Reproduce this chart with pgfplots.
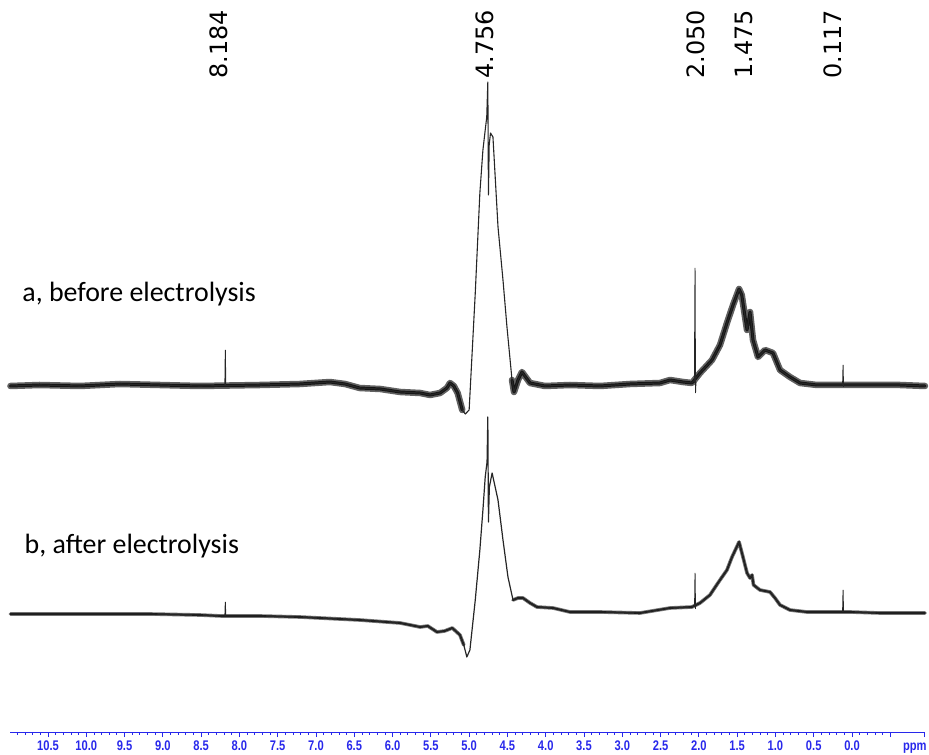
\documentclass[border=0pt]{standalone}
\usepackage{pgfplots}
\pgfplotsset{compat=1.18}
\usepackage{pgfplotstable}
\usepackage{fontspec}
\setmainfont{Carlito}
\newfontfamily\shiftfont{DejaVu Sans}
\newfontfamily\scalefont[FakeStretch=0.8]{Liberation Sans}
\definecolor{scaleblue}{RGB}{40,40,235}

% 1H spectrum before electrolysis (intensity relative to baseline)
\pgfplotstableread{
ppm I
10.99 -1
10.61 0
10.08 -1
9.56 1
9.04 0
8.52 -1
7.73 0
7.21 1
6.82 3
6.62 1
6.43 -3
6.16 -4
5.90 -7
5.64 -8
5.51 -10
5.38 -8
5.29 -3
5.25 2
5.20 -1
5.15 -8
5.09 -25
5.05 -29
5.00 -25
4.92 92
4.86 192
4.82 235
4.79 255
4.770 268
4.756 303
4.748 190
4.738 240
4.721 252
4.689 248
4.623 158
4.558 105
4.506 58
4.440 5
4.414 -7
4.362 5
4.310 13
4.205 2
4.009 -1
3.683 0
3.291 -1
2.899 1
2.508 2
2.377 5
2.207 3
2.090 2
1.985 12
1.828 25
1.724 40
1.633 62
1.554 80
1.475 96
1.440 90
1.371 55
1.332 73
1.293 45
1.228 28
1.136 35
1.032 32
0.940 15
0.810 8
0.679 2
0.457 0
0.200 0
-0.235 0
-0.627 0
-0.953 -1
}\tracea

\pgfplotstableread{
ppm I
8.190 0
8.184 35
8.178 0
nan nan
2.058 2
2.050 117
2.044 -8
2.038 3
nan nan
0.123 0
0.117 20
0.111 -2
}\spikesa

% 1H spectrum after electrolysis
\pgfplotstableread{
ppm I
10.99 -2
10.34 -2
9.82 -2
9.17 -2
8.52 -3
8.23 -4
7.73 -4
7.21 -5
6.43 -8
5.90 -11
5.64 -15
5.54 -14
5.42 -20
5.32 -19
5.22 -16
5.12 -23
5.07 -33
5.03 -45
4.99 -38
4.92 12
4.86 62
4.82 102
4.79 135
4.766 150
4.756 195
4.748 90
4.736 125
4.700 139
4.623 112
4.558 72
4.493 35
4.427 12
4.362 14
4.297 14
4.205 9
4.114 5
3.905 4
3.683 0
3.291 0
2.769 -1
2.377 4
2.090 5
1.985 9
1.855 17
1.724 32
1.633 42
1.567 55
1.475 70
1.424 55
1.371 39
1.332 34
1.306 37
1.286 27
1.202 22
1.071 20
1.006 14
0.940 7
0.810 2
0.588 0
0.287 0
0.026 0
-0.366 -1
-0.953 -1
}\traceb

\pgfplotstableread{
ppm I
8.190 -4
8.184 10
8.178 -4
nan nan
2.056 5
2.050 39
2.044 3
nan nan
0.123 0
0.117 22
0.111 0
}\spikesb

\pgfplotsset{
  band/.style={line join=round, line cap=round},
}

\begin{document}
\begin{tikzpicture}
\begin{axis}[
  scale only axis, width=915bp, height=732bp,
  x dir=reverse, xmin=-0.953, xmax=10.996,
  ymin=0, ymax=732,
  hide y axis,
  axis x line*=bottom,
  x axis line style={scaleblue, line width=0.9bp},
  xtick={11,10.5,10,9.5,9,8.5,8,7.5,7,6.5,6,5.5,5,4.5,4,3.5,3,2.5,2,1.5,1,0.5,0,-0.5},
  xticklabels={,10.5,10.0,9.5,9.0,8.5,8.0,7.5,7.0,6.5,6.0,5.5,5.0,4.5,4.0,3.5,3.0,2.5,2.0,1.5,1.0,0.5,0.0,},
  extra x ticks={-0.95}, extra x tick labels={},
  minor x tick num=4,
  tick align=outside,
  major tick length=5bp, minor tick length=2.5bp,
  tick style={scaleblue, line width=0.8bp},
  xticklabel style={font=\scalefont\bfseries\fontsize{14}{14}\selectfont, text=scaleblue, yshift=-0.5bp},
  unbounded coords=jump,
  clip=false,
]
% spectrum a: noisy baseline drawn as a soft band with a dark core
\addplot[black!62, line width=6.5bp, band, restrict x to domain=5.09:11]
  table[x=ppm, y expr=\thisrow{I}+347] {\tracea};
\addplot[black!62, line width=6.5bp, band, restrict x to domain=-1:4.44]
  table[x=ppm, y expr=\thisrow{I}+347] {\tracea};
\addplot[black!92, line width=3bp, band, restrict x to domain=5.09:11]
  table[x=ppm, y expr=\thisrow{I}+347] {\tracea};
\addplot[black!92, line width=3bp, band, restrict x to domain=-1:4.44]
  table[x=ppm, y expr=\thisrow{I}+347] {\tracea};
\addplot[black!85, line width=1.1bp, line join=round] table[x=ppm, y expr=\thisrow{I}+347] {\tracea};
\addplot[black!85, line width=0.9bp] table[x=ppm, y expr=\thisrow{I}+347] {\spikesa};
% spectrum b
\addplot[black!55, line width=3.6bp, band, restrict x to domain=5.07:11]
  table[x=ppm, y expr=\thisrow{I}+120] {\traceb};
\addplot[black!55, line width=3.6bp, band, restrict x to domain=-1:4.43]
  table[x=ppm, y expr=\thisrow{I}+120] {\traceb};
\addplot[black!92, line width=1.8bp, band, restrict x to domain=5.07:11]
  table[x=ppm, y expr=\thisrow{I}+120] {\traceb};
\addplot[black!92, line width=1.8bp, band, restrict x to domain=-1:4.43]
  table[x=ppm, y expr=\thisrow{I}+120] {\traceb};
\addplot[black!85, line width=1.2bp, line join=round] table[x=ppm, y expr=\thisrow{I}+120] {\traceb};
\addplot[black!85, line width=0.9bp] table[x=ppm, y expr=\thisrow{I}+120] {\spikesb};

\node[anchor=base west, font=\fontsize{28}{32}\selectfont] at (axis cs:10.88,430) {a, before electrolysis};
\node[anchor=base west, font=\fontsize{28}{32}\selectfont] at (axis cs:10.85,178) {b, after electrolysis};

\node[rotate=90, anchor=west, font=\shiftfont\fontsize{24}{28}\selectfont] at ([xshift=-7bp]axis cs:8.184,650) {8.184};
\node[rotate=90, anchor=west, font=\shiftfont\fontsize{24}{28}\selectfont] at ([xshift=-3bp]axis cs:4.756,650) {4.756};
\node[rotate=90, anchor=west, font=\shiftfont\fontsize{24}{28}\selectfont] at ([xshift=1bp]axis cs:2.050,650) {2.050};
\node[rotate=90, anchor=west, font=\shiftfont\fontsize{24}{28}\selectfont] at ([xshift=5bp]axis cs:1.475,650) {1.475};
\node[rotate=90, anchor=west, font=\shiftfont\fontsize{24}{28}\selectfont] at ([xshift=-10bp]axis cs:0.117,650) {0.117};

\node[font=\scalefont\bfseries\fontsize{14}{14}\selectfont, text=scaleblue] at ([yshift=-16bp]axis cs:-0.82,0) {ppm};

\coordinate (sw) at (rel axis cs:0,0);
\coordinate (ne) at (rel axis cs:1,1);
\end{axis}
\pgfresetboundingbox
\path[use as bounding box] ([xshift=-10bp,yshift=-23bp]sw) rectangle ([xshift=4bp]ne);
\end{tikzpicture}
\end{document}
